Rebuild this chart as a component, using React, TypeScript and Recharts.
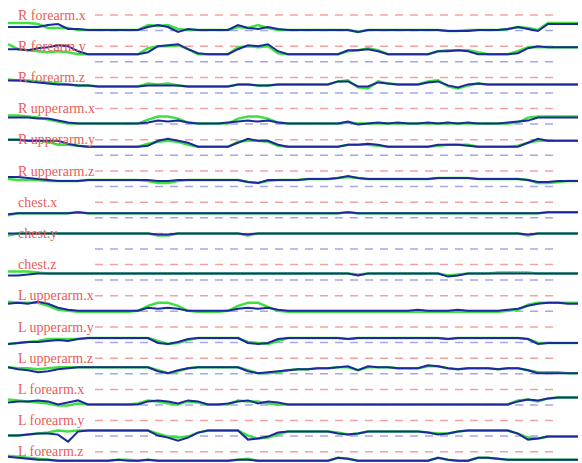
import React from 'react';
import { LineChart, Line, XAxis, YAxis, ReferenceLine, ReferenceDot } from 'recharts';

// channel names, top to bottom
const CHANNELS = [
  'R forearm.x', 'R forearm.y', 'R forearm.z',
  'R upperarm.x', 'R upperarm.y', 'R upperarm.z',
  'chest.x', 'chest.y', 'chest.z',
  'L upperarm.x', 'L upperarm.y', 'L upperarm.z',
  'L forearm.x', 'L forearm.y', 'L forearm.z',
];

// drop of each trace below its channel's red guide line, one value per sample
const BLUE = [
  [12,12,12,12,10,9,14,14,15,15, 15,15,15,15,12,10,12,17,14,15, 15,15,15,10,13,14,12,14,15,15, 15,15,15,15,15,17,15,15,15,15, 15,15,15,15,16,16,16,15,15,15, 14,12,14,16,9,9,9,9],
  [3,3,4,2,1,-1,0,5,8,8, 8,8,8,8,6,0,-1,-2,3,7, 8,8,8,3,-1,0,-2,5,8,8, 8,8,8,8,4,4,3,5,8,8, 8,8,8,5,5,4,5,8,8,8, 8,7,2,0,1,1,1,1],
  [3,3,4,5,6,7,7,8,8,9, 9,9,9,9,8,8,8,8,9,9, 9,9,9,7,7,8,8,7,7,7, 7,7,7,4,4,9,9,5,6,7, 7,7,5,4,8,10,7,6,7,7, 7,7,7,7,7,7,7,7],
  [9,9,9,10,10,12,14,15,15,15, 15,15,15,15,14,12,13,12,14,15, 15,15,14,13,12,13,12,14,15,15, 15,15,15,15,13,16,15,14,15,14, 15,15,14,15,14,15,14,15,15,15, 14,13,12,9,9,9,9,9],
  [0,0,1,1,1,1,4,6,7,7, 7,7,7,7,6,1,-1,1,3,7, 7,7,7,3,-1,1,1,5,7,7, 7,7,7,7,5,5,4,5,7,7, 7,7,7,5,5,5,6,7,7,7, 7,7,3,-1,1,1,1,1],
  [6,6,7,8,9,10,10,10,9,9, 9,9,9,9,9,10,10,9,9,9, 9,9,9,9,11,12,9,9,9,9, 8,8,8,7,5,7,8,8,8,8, 8,8,8,7,7,7,7,8,8,8, 8,8,9,11,11,10,10,10],
  [12,11,11,11,11,11,11,10,11,11, 11,11,11,11,11,11,11,11,11,11, 11,11,11,11,11,11,11,11,11,11, 11,11,11,11,10,11,11,11,11,11, 11,11,11,11,11,11,11,11,11,11, 11,11,11,11,10,10,10,10],
  [0,0,0,0,0,0,0,0,0,0, 0,0,0,0,0,1,1,0,0,0, 0,0,0,0,1,0,0,0,0,0, 0,0,0,0,0,0,0,0,0,0, 0,0,0,0,0,0,0,0,0,0, 0,0,1,0,0,0,0,0],
  [11,11,10,9,9,9,9,9,9,9, 9,9,9,9,9,9,9,9,9,9, 9,9,9,9,9,9,9,9,9,9, 9,9,9,9,9,11,9,9,9,9, 9,9,9,9,12,11,9,9,9,9, 9,9,9,9,9,9,9,9],
  [8,7,8,6,8,12,14,15,15,15, 15,15,15,15,12,13,12,13,15,15, 15,15,15,13,12,13,12,14,15,15, 15,15,15,15,15,15,15,15,15,15, 15,14,15,15,15,14,15,15,15,15, 14,13,10,8,7,7,8,8],
  [17,16,15,15,14,13,14,12,11,11, 11,11,11,11,11,16,17,15,12,11, 11,11,11,11,16,17,16,12,11,11, 11,11,11,11,12,11,11,11,11,11, 11,11,11,11,12,11,11,11,11,11, 11,11,12,17,16,16,16,16],
  [9,11,12,14,13,11,10,9,9,9, 9,9,9,9,9,13,15,12,10,9, 9,9,9,9,13,15,14,13,12,11, 11,10,10,9,8,12,8,9,9,10, 10,10,7,8,10,11,10,10,10,11, 10,10,12,15,15,15,15,15],
  [13,12,12,11,12,15,13,11,15,15, 15,15,15,15,12,11,12,14,11,12, 15,15,14,12,11,14,12,13,15,15, 15,15,15,15,15,15,15,15,15,15, 15,15,15,15,15,15,15,15,15,15, 15,12,10,11,9,8,8,8],
  [15,15,14,13,13,14,21,11,10,10, 10,10,10,10,10,15,17,20,17,12, 10,10,10,10,19,18,16,12,11,11, 11,11,11,13,14,13,11,11,11,11, 11,11,12,14,13,11,10,10,10,10, 10,13,19,18,16,16,16,16],
  [5,6,7,8,8,9,9,9,9,9, 9,8,9,9,8,9,9,9,9,9, 9,9,9,8,8,9,9,9,9,9, 9,9,9,6,7,9,9,9,9,9, 9,9,9,6,8,9,9,6,6,7, 8,8,8,8,8,8,8,8],
];

const GREEN = [
  [8,8,8,9,13,13,13,15,15,15, 15,15,15,15,10,11,10,14,15,15, 15,15,15,12,13,10,13,15,15,15, 15,15,15,15,15,17,15,15,15,15, 15,15,15,15,16,16,15,15,15,15, 14,12,13,15,8,8,8,8],
  [-2,3,4,5,6,5,6,8,8,8, 8,8,8,8,2,0,0,-1,3,8, 8,8,8,1,0,1,0,7,8,8, 8,8,8,8,5,4,2,4,8,8, 8,8,8,5,4,4,4,6,8,8, 8,5,1,1,1,1,1,1],
  [2,3,3,4,5,6,7,8,8,9, 9,9,9,9,6,7,6,8,9,9, 9,9,9,7,7,8,8,7,7,7, 7,7,7,4,3,10,11,4,6,7, 7,7,4,3,9,11,8,6,7,7, 7,7,7,7,7,7,7,7],
  [7,7,8,9,11,13,15,15,15,15, 15,15,15,15,11,8,8,10,14,15, 15,15,15,10,8,8,10,14,15,15, 15,15,15,15,14,15,15,15,15,15, 15,15,15,15,15,15,15,15,15,15, 15,14,9,8,8,8,8,8],
  [0,0,1,1,2,5,5,6,7,7, 7,7,7,7,4,2,1,2,5,7, 7,7,7,2,1,1,2,6,7,7, 7,7,7,7,5,5,5,6,7,7, 7,7,7,6,5,5,5,7,7,7, 7,6,3,1,1,1,1,1],
  [8,9,9,9,10,10,10,10,9,9, 9,9,9,9,10,12,12,10,9,9, 9,9,9,9,11,12,10,9,9,9, 8,8,8,7,6,7,8,8,8,8, 8,8,8,7,7,7,7,8,8,8, 8,8,9,12,12,11,10,10],
  [13,11,11,11,11,11,11,10,11,11, 11,11,11,11,11,11,11,11,11,11, 11,11,11,11,11,11,11,11,11,11, 11,11,11,11,10,11,11,11,11,11, 11,11,11,11,11,11,11,11,11,11, 11,11,11,11,10,10,10,10],
  [2,0,0,0,0,0,0,0,0,0, 0,0,0,0,0,2,2,0,0,0, 0,0,0,0,2,0,0,0,0,0, 0,0,0,0,0,0,0,0,0,0, 0,0,0,0,0,0,0,0,0,0, 0,0,2,0,0,0,0,0],
  [7,7,7,8,9,9,9,9,9,9, 9,9,9,9,9,9,9,9,9,9, 9,9,9,9,9,9,9,9,9,9, 9,9,9,9,9,10,9,9,9,9, 9,9,9,9,11,10,9,9,9,8, 8,8,8,9,9,9,9,9],
  [6,7,7,7,10,14,15,16,16,16, 16,16,16,15,10,7,7,10,15,16, 16,16,15,10,7,7,11,15,16,16, 16,16,16,16,16,16,16,16,16,16, 16,16,16,16,16,16,16,16,16,16, 15,14,9,7,7,7,7,7],
  [17,16,15,14,12,12,12,12,11,11, 11,11,11,11,11,14,17,16,13,11, 11,11,11,11,15,16,17,14,11,11, 11,11,11,11,12,11,11,11,11,11, 11,11,11,11,12,11,11,11,11,11, 11,11,12,16,16,16,16,16],
  [9,10,10,11,10,9,9,9,9,9, 9,9,9,9,9,12,15,13,10,9, 9,9,9,9,12,15,15,14,12,11, 11,10,10,9,9,12,9,9,9,10, 10,10,8,8,10,11,10,10,10,11, 10,10,12,14,14,14,15,15],
  [10,11,12,13,14,16,16,14,15,15, 15,15,15,14,11,12,14,15,12,13, 15,15,15,11,12,12,14,15,15,15, 15,15,15,15,15,15,15,15,15,15, 15,15,15,15,15,15,15,15,15,15, 15,11,10,12,9,8,8,8],
  [15,15,14,13,12,10,11,10,10,10, 10,10,10,10,10,13,16,17,16,12, 10,10,10,10,15,18,17,14,11,11, 11,11,11,12,14,13,11,11,11,11, 11,11,12,13,13,11,10,10,10,10, 10,13,17,18,16,16,16,16],
  [4,5,6,7,8,9,9,9,9,9, 9,8,8,9,8,9,9,9,9,9, 9,9,9,8,7,9,9,9,9,9, 9,9,9,6,7,9,9,9,9,9, 9,9,9,6,8,9,9,6,6,7, 8,8,8,8,8,8,8,8],
];

const ROW_GAP = 31.2;
const BLUE_GUIDE_DROP = 15.5;
const DASH_FROM = 8.7;
const DASH_TO = 55;
const SAMPLES = BLUE[0].length;

const guide = (i: number) => -i * ROW_GAP;

const data = Array.from({ length: SAMPLES }, (_, t) => {
  const row: Record<string, number> = { t };
  CHANNELS.forEach((_, i) => {
    row['b' + i] = guide(i) - BLUE[i][t];
    row['g' + i] = guide(i) - GREEN[i][t];
  });
  return row;
});

const labelShape = (name: string) => (p: any) => (
  <text
    x={p.cx}
    y={p.cy + 4.5}
    fill="#e85c58"
    fontFamily="'Liberation Serif', serif"
    fontSize={14}
  >
    {name}
  </text>
);

export default function App() {
  return (
    <div style={{ position: 'absolute', left: 0, top: 0, width: 582, height: 463, background: '#fff' }}>
      <LineChart width={582} height={463} data={data} margin={{ top: 0, right: 4, bottom: 0, left: 8 }}>
        <XAxis dataKey="t" type="number" domain={[0, SAMPLES - 1]} hide />
        <YAxis type="number" domain={[-448, 15]} hide allowDataOverflow />
        {CHANNELS.map((name, i) => (
          <ReferenceDot key={'l' + i} x={1} y={guide(i)} r={0} shape={labelShape(name)} />
        ))}
        {CHANNELS.map((_, i) => (
          <ReferenceLine
            key={'r' + i}
            segment={[{ x: DASH_FROM, y: guide(i) }, { x: DASH_TO, y: guide(i) }]}
            stroke="#f3a2a0"
            strokeWidth={1.5}
            strokeDasharray="8 7"
          />
        ))}
        {CHANNELS.map((_, i) => (
          <ReferenceLine
            key={'bl' + i}
            segment={[{ x: DASH_FROM, y: guide(i) - BLUE_GUIDE_DROP }, { x: DASH_TO, y: guide(i) - BLUE_GUIDE_DROP }]}
            stroke="#a6a6ec"
            strokeWidth={1.5}
            strokeDasharray="8 7"
          />
        ))}
        {CHANNELS.map((_, i) => (
          <Line key={'g' + i} dataKey={'g' + i} type="linear" stroke="#3fe03f" strokeWidth={2.5} dot={false} isAnimationActive={false} />
        ))}
        {CHANNELS.map((_, i) => (
          <Line key={'b' + i} dataKey={'b' + i} type="linear" stroke="#1a2a9c" strokeWidth={2} dot={false} isAnimationActive={false} />
        ))}
      </LineChart>
    </div>
  );
}
